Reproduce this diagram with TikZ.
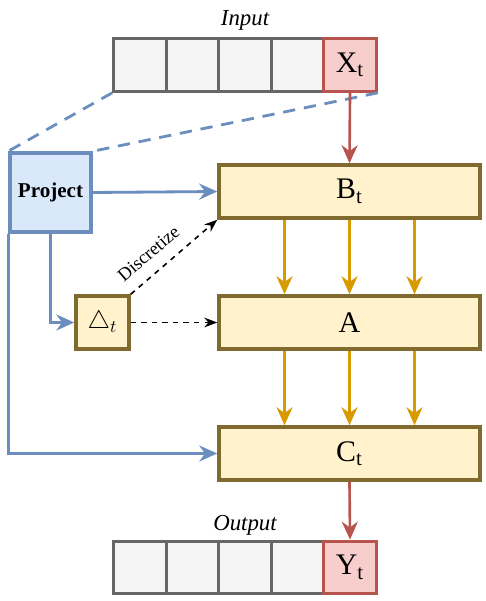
\documentclass[tikz,border=0pt]{standalone}
\usepackage{fontspec}
\setmainfont{Liberation Serif}
\usetikzlibrary{positioning,arrows.meta}
\definecolor{cellgray}{HTML}{F5F5F5}
\definecolor{cellline}{HTML}{666666}
\definecolor{redfill}{HTML}{F8CECC}
\definecolor{redline}{HTML}{B85450}
\definecolor{yelfill}{HTML}{FFF2CC}
\definecolor{yelline}{HTML}{806A2E}
\definecolor{orarrow}{HTML}{D79B00}
\definecolor{bluefill}{HTML}{DAE8FC}
\definecolor{blueline}{HTML}{6C8EBF}
\begin{document}
\begin{tikzpicture}[node distance={10.5mm},
        cell/.style = {rectangle, draw=cellline, fill=cellgray, line width=1.8pt, minimum size=10.5mm},
        last/.style = {cell, draw=redline, fill=redfill, font=\fontsize{17pt}{20pt}\selectfont},
        mat/.style = {rectangle, draw=yelline, fill=yelfill, line width=2pt, minimum width=52.2mm, minimum height=10.6mm, font=\fontsize{17pt}{20pt}\selectfont},
        tip/.style = {-{Stealth[length=3.6mm,width=3.2mm]}}]
        \useasboundingbox (0,0) rectangle (9.7,-12.02);

        % Entree
        \node[cell] (i1) at (2.8,-1.3) {};
        \node[cell] (i2) [right of=i1] {};
        \node[cell] (i3) [right of=i2] {};
        \node[cell] (i4) [right of=i3] {};
        \node[last] (X) [right of=i4] {X\textsubscript{t}};
        \node[font=\fontsize{13pt}{15pt}\itshape] (in) at (4.9,-0.4) {Input};

        % Sortie
        \node[cell] (o1) at (2.8,-11.35) {};
        \node[cell] (o2) [right of=o1] {};
        \node[cell] (o3) [right of=o2] {};
        \node[cell] (o4) [right of=o3] {};
        \node[last] (Y) [right of=o4] {Y\textsubscript{t}};
        \node[font=\fontsize{13pt}{15pt}\itshape] (out) at (4.9,-10.5) {Output};

        % Matrices
        \node[mat] (B) at (6.99,-3.83) {B\textsubscript{t}};
        \node[mat] (A) at (6.99,-6.45) {A};
        \node[mat] (C) at (6.99,-9.07) {C\textsubscript{t}};

        % Projection et pas
        \node[rectangle, draw=blueline, fill=bluefill, line width=2pt, minimum width=16.2mm, minimum height=15.8mm,
              font=\fontsize{12pt}{14pt}\selectfont] (P) at (1.01,-3.85) {\textbf{Project}};
        \node[rectangle, draw=yelline, fill=yelfill, line width=2pt, minimum size=10.6mm,
              font=\fontsize{14pt}{16pt}\selectfont] (D) at (2.05,-6.45) {$\triangle_t$};

        % Lien avec l'entree
        \draw[blueline, line width=1.6pt, dashed, dash pattern=on 7pt off 5pt] (i1.south west) -- (P.north west);
        \draw[blueline, line width=1.6pt, dashed, dash pattern=on 7pt off 5pt] (X.south east) -- (P.north east);
        \draw[tip, redline, line width=1.5pt] (X.south) -- (B.north);
        \draw[tip, redline, line width=1.5pt] (C.south) -- (Y.north);

        % Liens bleus
        \draw[tip, blueline, line width=1.6pt] (P.east) -- (B.west);
        \draw[tip, blueline, line width=1.6pt] (P.south) |- (D.west);
        \draw[tip, blueline, line width=1.6pt] (P.south west) |- (C.west);

        % Discretisation
        \draw[-{Stealth[length=2.6mm]}, dashed, line width=0.9pt] (D.north east) -- node[pos=0.35, above=6pt, sloped, inner sep=1pt, font=\fontsize{10.5pt}{12pt}\selectfont] {Discretize} (B.south west);
        \draw[-{Stealth[length=2.6mm]}, dashed, line width=0.9pt] (D.east) -- (A.west);

        % Autres liens
        \foreach \m in {-1.3,0,1.3}{
            \draw[tip, orarrow, line width=1.5pt] ([xshift=\m cm]B.south) -- ([xshift=\m cm]A.north);
            \draw[tip, orarrow, line width=1.5pt] ([xshift=\m cm]A.south) -- ([xshift=\m cm]C.north);
        }
    \end{tikzpicture}
\end{document}
